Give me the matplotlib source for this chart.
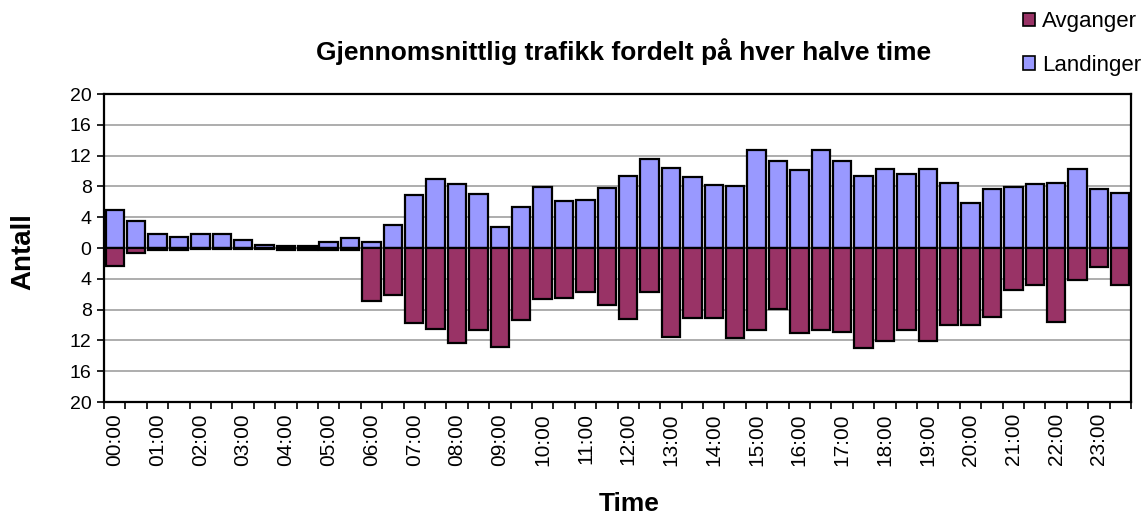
import numpy as np
import matplotlib.pyplot as plt
from matplotlib.patches import Patch
from matplotlib.ticker import FuncFormatter, MultipleLocator

plt.rcParams['font.family'] = ['Liberation Sans', 'DejaVu Sans']

# halvtimer 00:00 - 23:30
tider = ["%02d:%02d" % (h, m) for h in range(24) for m in (0, 30)]

landinger = [5.0, 3.5, 1.8, 1.4, 1.8, 1.8, 1.1, 0.35, 0.3, 0.2, 0.8, 1.3,
             0.75, 3.0, 6.9, 9.0, 8.35, 7.0, 2.75, 5.35, 7.9, 6.1, 6.3, 7.8,
             9.3, 11.6, 10.4, 9.2, 8.2, 8.1, 12.7, 11.3, 10.1, 12.7, 11.3, 9.4,
             10.3, 9.6, 10.3, 8.4, 5.8, 7.65, 7.95, 8.25, 8.4, 10.3, 7.65, 7.1]

avganger = [2.4, 0.6, 0.3, 0.3, 0.1, 0.1, 0.1, 0.15, 0.3, 0.3, 0.3, 0.3,
            6.9, 6.1, 9.7, 10.5, 12.3, 10.7, 12.8, 9.35, 6.6, 6.5, 5.65, 7.4,
            9.2, 5.65, 11.5, 9.1, 9.1, 11.65, 10.6, 7.95, 11.0, 10.7, 10.9, 13.0,
            12.1, 10.7, 12.1, 10.0, 10.0, 8.9, 5.4, 4.8, 9.6, 4.2, 2.5, 4.8]

farge_land = '#9999FF'
farge_avg = '#993366'

fig = plt.figure(figsize=(11.46, 5.2), dpi=100)
ax = fig.add_axes([0.0908, 0.2269, 0.8961, 0.5923])

x = np.arange(len(tider))
ax.bar(x, landinger, width=0.86, color=farge_land, edgecolor='black', linewidth=1.6, zorder=3)
ax.bar(x, -np.array(avganger), width=0.86, color=farge_avg, edgecolor='black', linewidth=1.6, zorder=3)

ax.set_xlim(-0.5, len(tider) - 0.5)
ax.set_ylim(-20, 20)
ax.yaxis.set_major_locator(MultipleLocator(4))
ax.yaxis.set_major_formatter(FuncFormatter(lambda v, p: "%d" % abs(round(v))))
ax.yaxis.grid(True, color='#a0a0a0', linewidth=1.2, zorder=0)

# etiketter for hver hele time, tick-streker mellom kategoriene
ax.set_xticks(x[::2])
ax.set_xticklabels(tider[::2], rotation=90)
ax.set_xticks(np.arange(-0.5, len(tider)), minor=True)
ax.tick_params(axis='x', which='major', length=0, pad=8, labelsize=15)
ax.tick_params(axis='x', which='minor', length=5, width=1.2, direction='out')
ax.tick_params(axis='y', length=5, width=1.2, direction='out', labelsize=14, pad=4)

for s in ax.spines.values():
    s.set_linewidth(1.6)
    s.set_color('black')

fig.text(0.544, 0.9, "Gjennomsnittlig trafikk fordelt på hver halve time",
         ha='center', va='center', fontsize=19, fontweight='bold')
fig.text(0.549, 0.03, "Time", ha='center', va='center', fontsize=19, fontweight='bold')
fig.text(0.02, 0.517, "Antall", ha='center', va='center', rotation=90,
         fontsize=20, fontweight='bold')

handles = [Patch(facecolor=farge_avg, edgecolor='black', linewidth=1.2),
           Patch(facecolor=farge_land, edgecolor='black', linewidth=1.2)]
fig.legend(handles, ["Avganger", "Landinger"], loc='upper left',
           bbox_to_anchor=(0.885, 0.995), frameon=False, fontsize=16,
           handlelength=0.55, handleheight=0.55, handletextpad=0.3,
           labelspacing=1.0, borderaxespad=0)

fig.savefig("out.png", dpi=100)
